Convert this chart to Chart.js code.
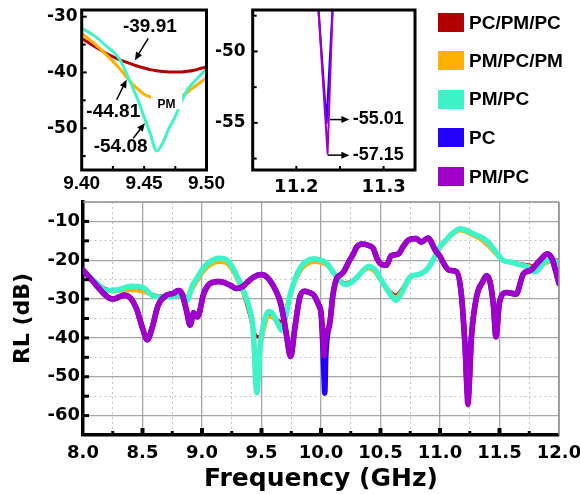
<!DOCTYPE html>
<html><head><meta charset="utf-8">
<script src="https://cdn.jsdelivr.net/npm/chart.js@4.4.0/dist/chart.umd.min.js"></script>
<style>
html,body{margin:0;padding:0;background:#fff;}
body{width:580px;height:494px;overflow:hidden;position:relative;}
canvas{position:absolute;}
#main{left:0;top:170px;}
#ins1{left:0;top:-20px;}
#ins2{left:200px;top:-20px;}
.leg{position:absolute;left:438px;height:24px;display:flex;align-items:center;font:bold 19px "Liberation Sans",Arial,sans-serif;color:#000;white-space:nowrap;}
.leg span{display:inline-block;width:26px;height:19px;margin-right:5px;}
</style></head>
<body>
<canvas id="main" width="590" height="324"></canvas>
<canvas id="ins1" width="227" height="225"></canvas>
<canvas id="ins2" width="240" height="230"></canvas>
<div id="legend"></div>
<script>
// ---------- DATA ----------
const seriesNames = ['PC/PM/PC', 'PM/PC/PM', 'PM/PC', 'PC', 'PM/PC'];

// main chart, group A (three-layer and PM/PC bilayer designs)
const freqA = [
  8.00, 8.10, 8.20, 8.30, 8.40, 8.50, 8.60, 8.70, 8.80, 8.84,
  8.87, 8.92, 8.96, 9.00, 9.05, 9.10, 9.15, 9.20, 9.25, 9.30,
  9.35, 9.40, 9.43, 9.46, 9.49, 9.52, 9.56, 9.60, 9.64, 9.67,
  9.70, 9.74, 9.78, 9.83, 9.88, 9.94, 10.00, 10.05, 10.10, 10.15,
  10.20, 10.25, 10.30, 10.35, 10.40, 10.45, 10.50, 10.55, 10.60, 10.63,
  10.66, 10.70, 10.75, 10.80, 10.85, 10.90, 10.95, 11.00, 11.05, 11.10,
  11.17, 11.22, 11.28, 11.34, 11.40, 11.46, 11.53, 11.60, 11.65, 11.70,
  11.75, 11.80, 11.85, 11.90, 11.95, 12.00];
const rlPCPMPC = [
  -22.3, -25.4, -27.5, -27.9, -27.6, -27.9, -29.0, -29.3, -28.8, -28.6,
  -29.6, -27.2, -25.2, -23.3, -21.6, -20.6, -20.3, -20.6, -22.1, -25.0,
  -28.8, -33.9, -37.7, -39.7, -39.7, -37.0, -34.0, -34.5, -35.5, -35.8,
  -33.5, -29.0, -25.5, -22.5, -21.0, -20.3, -20.5, -21.2, -23.0, -24.8,
  -25.8, -25.5, -24.3, -22.8, -22.0, -22.8, -25.0, -27.0, -28.6, -29.0,
  -28.3, -26.5, -24.3, -23.8, -23.3, -21.8, -19.5, -16.8, -15.0, -13.4,
  -12.2, -12.6, -13.5, -14.5, -16.0, -18.0, -20.0, -20.5, -20.8, -21.0,
  -21.3, -21.5, -21.0, -20.5, -20.0, -20.0];
const rlPMPCPM = [
  -22.4, -25.6, -27.7, -28.0, -27.8, -28.1, -29.2, -29.5, -29.0, -28.9,
  -29.9, -27.4, -25.4, -23.4, -21.8, -20.8, -20.5, -20.8, -22.4, -25.3,
  -29.0, -33.2, -39.2, -44.7, -42.6, -38.0, -34.6, -35.0, -36.2, -36.6,
  -34.0, -29.3, -25.8, -22.7, -21.2, -20.5, -20.7, -21.4, -23.2, -25.0,
  -26.0, -25.7, -24.5, -23.0, -22.2, -23.0, -25.2, -27.2, -28.9, -29.4,
  -28.6, -26.7, -24.5, -24.0, -23.5, -22.0, -19.7, -17.0, -15.2, -13.6,
  -12.4, -12.8, -13.7, -14.7, -16.2, -18.2, -20.2, -20.7, -21.0, -21.2,
  -21.5, -21.7, -21.2, -20.7, -20.2, -20.2];
const rlPMPCbi = [
  -22.5, -25.5, -27.8, -27.6, -26.7, -27.0, -29.3, -29.5, -29.0, -29.2,
  -30.5, -26.5, -24.5, -22.5, -20.8, -19.8, -19.5, -19.8, -21.5, -24.5,
  -28.0, -32.5, -37.8, -54.1, -41.7, -36.0, -33.2, -34.0, -36.5, -38.0,
  -35.0, -29.0, -25.0, -21.8, -20.2, -19.6, -20.0, -20.8, -23.0, -25.0,
  -26.2, -25.8, -24.5, -22.8, -21.6, -22.3, -24.8, -27.3, -29.5, -30.3,
  -29.3, -27.0, -24.3, -23.8, -23.3, -22.0, -19.5, -16.5, -14.8, -13.2,
  -11.9, -12.3, -13.2, -14.0, -15.2, -17.5, -20.0, -20.5, -21.0, -21.3,
  -22.0, -23.0, -21.5, -20.0, -20.0, -20.9];

// main chart, group B (PC and PM/PC second design)
const freqB = [
  8.00, 8.10, 8.20, 8.25, 8.30, 8.35, 8.40, 8.45, 8.50, 8.54,
  8.58, 8.63, 8.70, 8.76, 8.80, 8.83, 8.87, 8.90, 8.93, 8.96,
  8.98, 9.01, 9.05, 9.09, 9.14, 9.18, 9.24, 9.29, 9.34, 9.37,
  9.43, 9.50, 9.54, 9.57, 9.62, 9.66, 9.69, 9.71, 9.745, 9.78,
  9.82, 9.86, 9.90, 9.94, 9.98, 10.00, 10.015, 10.025, 10.032, 10.04,
  10.076, 10.10, 10.13, 10.16, 10.19, 10.24, 10.27, 10.30, 10.35, 10.40,
  10.44, 10.47, 10.50, 10.55, 10.59, 10.65, 10.69, 10.73, 10.80, 10.84,
  10.90, 10.96, 11.00, 11.04, 11.08, 11.14, 11.18, 11.21, 11.235, 11.265,
  11.31, 11.36, 11.39, 11.42, 11.45, 11.47, 11.50, 11.56, 11.64, 11.70,
  11.76, 11.84, 11.90, 11.94, 11.97, 12.00];
const rlPMPC = [
  -22.5, -26.0, -29.3, -30.0, -29.5, -29.0, -29.8, -32.5, -37.5, -40.5,
  -37.5, -31.7, -29.0, -28.5, -27.8, -28.5, -33.0, -36.7, -33.5, -34.6,
  -33.3, -29.0, -26.5, -25.7, -25.5, -25.7, -26.5, -27.3, -26.8, -26.0,
  -24.4, -23.7, -24.2, -25.2, -27.8, -31.0, -35.5, -39.3, -44.8, -37.5,
  -29.8, -28.0, -28.3, -29.0, -31.5, -33.5, -39.0, -44.5, -42.5, -40.0,
  -35.8, -29.0, -24.8, -23.8, -23.0, -20.0, -18.5, -16.6, -15.8, -16.2,
  -17.0, -19.5, -20.9, -21.3, -18.8, -18.4, -16.5, -14.9, -14.4, -15.3,
  -14.3, -17.4, -19.0, -21.3, -22.6, -23.0, -29.0, -41.8, -57.2, -39.3,
  -29.0, -25.5, -24.0, -25.5, -32.0, -39.7, -30.8, -28.3, -28.7, -23.5,
  -22.6, -20.0, -18.4, -19.5, -22.5, -26.0];
const rlPC = [
  -22.5, -26.0, -29.3, -30.0, -29.5, -29.0, -29.8, -32.5, -37.5, -40.5,
  -37.5, -31.7, -29.0, -28.5, -27.8, -28.5, -33.0, -36.7, -33.5, -34.6,
  -33.3, -29.0, -26.5, -25.7, -25.5, -25.7, -26.5, -27.3, -26.8, -26.0,
  -24.4, -23.7, -24.2, -25.2, -27.8, -31.0, -35.5, -39.3, -44.8, -37.5,
  -29.8, -28.0, -28.3, -29.0, -31.5, -33.5, -42.0, -50.0, -54.2, -45.0,
  -35.8, -29.0, -24.8, -23.8, -23.0, -20.0, -18.5, -16.6, -15.8, -16.2,
  -17.0, -19.5, -20.9, -21.3, -18.8, -18.4, -16.5, -14.9, -14.4, -15.3,
  -14.3, -17.4, -19.0, -21.3, -22.6, -23.0, -29.0, -41.8, -55.0, -39.3,
  -29.0, -25.5, -24.0, -25.5, -32.0, -39.7, -30.8, -28.3, -28.7, -23.5,
  -22.6, -20.0, -18.4, -19.5, -22.5, -26.0];

// inset 1: zoom 9.40 - 9.50 GHz
const zoomFreqA = [9.400, 9.410, 9.420, 9.430, 9.440, 9.445, 9.450, 9.455, 9.460, 9.465,
                   9.470, 9.475, 9.480, 9.485, 9.490, 9.495, 9.500];
const zoomPCPMPC = [-33.9, -35.3, -36.6, -37.7, -38.5, -38.9, -39.2, -39.5, -39.7, -39.85,
                    -39.91, -39.91, -39.9, -39.8, -39.6, -39.3, -39.0];
const zoomPMPCPM = [-33.0, -34.8, -36.9, -39.2, -41.9, -43.0, -43.9, -44.4, -44.7, -44.81,
                    -44.8, -44.6, -44.2, -43.5, -42.6, -41.8, -41.0];
const zoomPMPCbi = [-32.1, -33.4, -35.3, -37.5, -42.3, -44.9, -48.0, -51.0, -54.08, -52.6,
                    -50.0, -47.9, -45.2, -43.0, -41.7, -40.5, -39.4];

// inset 2: zoom near 11.24 GHz
const zoomFreqPC = [11.2230, 11.2346, 11.2433];
const zoomRLPC = [-45.0, -55.01, -45.0];
const zoomFreqPMPC = [11.2232, 11.2358, 11.2427];
const zoomRLPMPC = [-45.0, -57.15, -45.0];

// ---------- STYLE ----------
const colors = ['#B20000', '#FFB000', '#3EF3C8', '#2200FF', '#A100C9'];
const DV = 'DejaVu Sans', LS = 'Liberation Sans';
Chart.defaults.color = '#000';

function isMult(v, s) { const r = v / s; return Math.abs(r - Math.round(r)) < 1e-6; }
function pts(xs, ys) { return xs.map((x, i) => ({x: x, y: ys[i]})); }

const frameTicks = {
  id: 'frameTicks',
  afterDraw(chart, args, o) {
    const ctx = chart.ctx, a = chart.chartArea, xs = chart.scales.x, ys = chart.scales.y;
    ctx.save();
    ctx.lineCap = 'butt';
    if (o.box) {
      ctx.strokeStyle = o.box.color; ctx.lineWidth = o.box.width;
      if (o.box.sides) {
        ctx.beginPath();
        if (o.box.sides.includes('top')) { ctx.moveTo(a.left, a.top); ctx.lineTo(a.right, a.top); }
        if (o.box.sides.includes('right')) { ctx.moveTo(a.right, a.top); ctx.lineTo(a.right, a.bottom); }
        ctx.stroke();
      } else {
        ctx.strokeRect(a.left, a.top, a.right - a.left, a.bottom - a.top);
      }
    }
    ctx.strokeStyle = '#000';
    xs.ticks.forEach(t => {
      if (t.value <= xs.min + 1e-9 || t.value >= xs.max - 1e-9) return;
      const major = isMult(t.value, o.x.major);
      const p = xs.getPixelForValue(t.value);
      ctx.lineWidth = major ? o.x.majorWidth : o.x.minorWidth;
      ctx.beginPath(); ctx.moveTo(p, a.bottom); ctx.lineTo(p, a.bottom - (major ? o.x.majorLen : o.x.minorLen)); ctx.stroke();
    });
    ys.ticks.forEach(t => {
      if (t.value <= ys.min + 1e-9 || t.value >= ys.max - 1e-9) return;
      const major = isMult(t.value, o.y.major);
      const p = ys.getPixelForValue(t.value);
      ctx.lineWidth = major ? o.y.majorWidth : o.y.minorWidth;
      ctx.beginPath(); ctx.moveTo(a.left, p); ctx.lineTo(a.left + (major ? o.y.majorLen : o.y.minorLen), p); ctx.stroke();
    });
    ctx.restore();
  }
};

const annot = {
  id: 'annot',
  afterDatasetsDraw(chart, args, o) {
    const ctx = chart.ctx, xs = chart.scales.x, ys = chart.scales.y;
    ctx.save();
    (o.items || []).forEach(it => {
      if (it.type === 'mask') {
        const x1 = xs.getPixelForValue(it.x1), x2 = xs.getPixelForValue(it.x2);
        const y1 = ys.getPixelForValue(it.y1), y2 = ys.getPixelForValue(it.y2);
        ctx.fillStyle = '#fff';
        ctx.fillRect(Math.min(x1, x2), Math.min(y1, y2), Math.abs(x2 - x1), Math.abs(y2 - y1));
      } else if (it.type === 'arrow') {
        const x1 = xs.getPixelForValue(it.x1), x2 = xs.getPixelForValue(it.x2);
        const y1 = ys.getPixelForValue(it.y1), y2 = ys.getPixelForValue(it.y2);
        const ang = Math.atan2(y2 - y1, x2 - x1), c = Math.cos(ang), s = Math.sin(ang);
        const hl = 8, hw = 3.5;
        ctx.strokeStyle = '#000'; ctx.fillStyle = '#000'; ctx.lineWidth = 1.5;
        ctx.beginPath(); ctx.moveTo(x1, y1); ctx.lineTo(x2 - hl * 0.8 * c, y2 - hl * 0.8 * s); ctx.stroke();
        ctx.beginPath(); ctx.moveTo(x2, y2);
        ctx.lineTo(x2 - hl * c + hw * s, y2 - hl * s - hw * c);
        ctx.lineTo(x2 - hl * c - hw * s, y2 - hl * s + hw * c);
        ctx.closePath(); ctx.fill();
      } else if (it.type === 'text') {
        ctx.font = it.font; ctx.fillStyle = '#000';
        ctx.textAlign = it.align || 'center'; ctx.textBaseline = 'middle';
        ctx.fillText(it.text, xs.getPixelForValue(it.x), ys.getPixelForValue(it.y));
      }
    });
    ctx.restore();
  }
};

function lineDs(label, data, color, width, order, tension) {
  return {label: label, data: data, borderColor: color, backgroundColor: color, borderWidth: width,
          order: order, pointRadius: 0, fill: false, borderJoinStyle: 'round', borderCapStyle: 'round',
          cubicInterpolationMode: tension ? 'monotone' : 'default', tension: 0, clip: 0};
}

// ---------- MAIN CHART ----------
const mainGrid = (step) => ({
  drawTicks: false,
  color: c => (c.tick && (isMult(c.tick.value, step))) ? '#a6a6a6' : '#c4c4c4',
  lineWidth: c => (c.tick && (isMult(c.tick.value, step))) ? 1.3 : 1
});
const mainBorder = (step) => ({
  color: '#000', width: 3.5,
  dash: c => (c.tick && !isMult(c.tick.value, step)) ? [2, 3] : []
});

new Chart(document.getElementById('main'), {
  type: 'line',
  data: {datasets: [
    lineDs(seriesNames[4], pts(freqB, rlPMPC), colors[4], 5.5, 0, true),
    lineDs(seriesNames[3], pts(freqB, rlPC), colors[3], 5.5, 1, true),
    lineDs(seriesNames[2], pts(freqA, rlPMPCbi), colors[2], 5.5, 2, true),
    lineDs(seriesNames[1], pts(freqA, rlPMPCPM), colors[1], 3.5, 3, true),
    lineDs(seriesNames[0], pts(freqA, rlPCPMPC), colors[0], 3.5, 4, true)
  ]},
  plugins: [frameTicks],
  options: {
    responsive: false, animation: false, devicePixelRatio: 1,
    layout: {padding: {left: 0, top: 32, right: 31, bottom: 0}},
    plugins: {
      legend: {display: false}, tooltip: {enabled: false},
      frameTicks: {
        box: {color: '#8f8f8f', width: 1.5, sides: ['top', 'right']},
        x: {major: 0.5, majorLen: 7, minorLen: 4, majorWidth: 4, minorWidth: 3},
        y: {major: 10, majorLen: 6, minorLen: 6, majorWidth: 3, minorWidth: 3}
      }
    },
    scales: {
      x: {
        type: 'linear', min: 8, max: 12,
        afterFit: s => { s.height = 59; },
        grid: mainGrid(0.5), border: mainBorder(0.5),
        ticks: {stepSize: 0.25, autoSkip: false, maxRotation: 0, minRotation: 0, includeBounds: false, padding: 8,
                font: {family: DV, weight: 'bold', size: 18},
                callback: v => isMult(v, 0.5) ? Number(v).toFixed(1) : ''},
        title: {display: true, text: 'Frequency (GHz)', font: {family: DV, weight: 'bold', size: 25}, padding: {top: 0, bottom: 0}}
      },
      y: {
        type: 'linear', min: -65, max: -5,
        afterFit: s => { s.width = 83; },
        grid: mainGrid(10), border: mainBorder(10),
        ticks: {stepSize: 5, autoSkip: false, includeBounds: false, padding: 3,
                font: {family: DV, weight: 'bold', size: 18},
                callback: v => isMult(v, 10) ? String(v) : ''},
        title: {display: true, text: 'RL (dB)', font: {family: DV, weight: 'bold', size: 22}, padding: {top: 10, bottom: 0}}
      }
    }
  }
});

// ---------- INSET 1 ----------
const noGrid = {display: false, drawTicks: false};
const noBorder = {display: false};
new Chart(document.getElementById('ins1'), {
  type: 'line',
  data: {datasets: [
    lineDs(seriesNames[2], pts(zoomFreqA, zoomPMPCbi), colors[2], 3, 0, true),
    lineDs(seriesNames[1], pts(zoomFreqA, zoomPMPCPM), colors[1], 3, 1, true),
    lineDs(seriesNames[0], pts(zoomFreqA, zoomPCPMPC), colors[0], 3, 2, true)
  ]},
  plugins: [annot, frameTicks],
  options: {
    responsive: false, animation: false, devicePixelRatio: 1,
    layout: {padding: {left: 0, top: 30, right: 20.3, bottom: 0}},
    plugins: {
      legend: {display: false}, tooltip: {enabled: false},
      frameTicks: {
        box: {color: '#000', width: 3},
        x: {major: 0.05, majorLen: 4, minorLen: 4, majorWidth: 2, minorWidth: 2},
        y: {major: 10, majorLen: 5, minorLen: 4, majorWidth: 2, minorWidth: 2}
      },
      annot: {items: [
        {type: 'mask', x1: 9.4555, x2: 9.4805, y1: -42.4, y2: -46.6},
        {type: 'text', text: 'PM', x: 9.468, y: -45.8, font: 'bold 12px "Liberation Sans"'},
        {type: 'text', text: '-39.91', x: 9.4546, y: -31.8, font: 'bold 19px "Liberation Sans"'},
        {type: 'arrow', x1: 9.4533, y1: -33.9, x2: 9.4426, y2: -37.8},
        {type: 'text', text: '-44.81', x: 9.4253, y: -47.0, font: 'bold 19px "Liberation Sans"'},
        {type: 'arrow', x1: 9.428, y1: -44.9, x2: 9.436, y2: -41.3},
        {type: 'text', text: '-54.08', x: 9.4312, y: -53.3, font: 'bold 19px "Liberation Sans"'},
        {type: 'arrow', x1: 9.4413, y1: -51.8, x2: 9.4506, y2: -49.1}
      ]}
    },
    scales: {
      x: {
        type: 'linear', min: 9.40, max: 9.50,
        afterFit: s => { s.height = 35; },
        grid: noGrid, border: noBorder,
        ticks: {stepSize: 0.025, autoSkip: false, maxRotation: 0, minRotation: 0, includeBounds: false, padding: 2,
                font: {family: LS, weight: 'bold', size: 19},
                callback: v => isMult(v, 0.05) ? Number(v).toFixed(2) : ''}
      },
      y: {
        type: 'linear', min: -57.5, max: -28.8,
        afterFit: s => { s.width = 81.7; },
        grid: noGrid, border: noBorder,
        ticks: {stepSize: 5, autoSkip: false, includeBounds: false, padding: 4,
                font: {family: DV, weight: 'bold', size: 17},
                callback: v => isMult(v, 10) ? String(v) : ''}
      }
    }
  }
});

// ---------- INSET 2 ----------
new Chart(document.getElementById('ins2'), {
  type: 'line',
  data: {datasets: [
    lineDs(seriesNames[4], pts(zoomFreqPMPC, zoomRLPMPC), colors[4], 2, 0, false),
    lineDs(seriesNames[3], pts(zoomFreqPC, zoomRLPC), colors[3], 2.2, 1, false)
  ]},
  plugins: [annot, frameTicks],
  options: {
    responsive: false, animation: false, devicePixelRatio: 1,
    layout: {padding: {left: 0, top: 30, right: 25, bottom: 0}},
    plugins: {
      legend: {display: false}, tooltip: {enabled: false},
      frameTicks: {
        box: {color: '#000', width: 3},
        x: {major: 0.1, majorLen: 4, minorLen: 4, majorWidth: 2, minorWidth: 2},
        y: {major: 5, majorLen: 5, minorLen: 4, majorWidth: 2, minorWidth: 2}
      },
      annot: {items: [
        {type: 'arrow', x1: 11.2385, y1: -54.77, x2: 11.2608, y2: -54.77},
        {type: 'text', text: '-55.01', x: 11.2646, y: -54.72, align: 'left', font: 'bold 18px "Liberation Sans"'},
        {type: 'arrow', x1: 11.2358, y1: -57.26, x2: 11.2608, y2: -57.26},
        {type: 'text', text: '-57.15', x: 11.2646, y: -57.24, align: 'left', font: 'bold 18px "Liberation Sans"'}
      ]}
    },
    scales: {
      x: {
        type: 'linear', min: 11.15, max: 11.336,
        afterFit: s => { s.height = 40; },
        grid: noGrid, border: noBorder,
        ticks: {stepSize: 0.05, autoSkip: false, maxRotation: 0, minRotation: 0, includeBounds: false, padding: 7,
                font: {family: DV, weight: 'bold', size: 18},
                callback: v => isMult(v, 0.1) ? Number(v).toFixed(1) : ''}
      },
      y: {
        type: 'linear', min: -58.3, max: -47.1,
        afterFit: s => { s.width = 52.7; },
        grid: noGrid, border: noBorder,
        ticks: {stepSize: 2.5, autoSkip: false, includeBounds: false, padding: 7,
                font: {family: DV, weight: 'bold', size: 17},
                callback: v => isMult(v, 5) ? String(v) : ''}
      }
    }
  }
});

// ---------- LEGEND ----------
const legendCenters = [22.5, 60.8, 99.2, 137.5, 176.7];
const legendEl = document.getElementById('legend');
seriesNames.forEach((name, i) => {
  const d = document.createElement('div');
  d.className = 'leg';
  d.style.top = (legendCenters[i] - 12) + 'px';
  const sw = document.createElement('span');
  sw.style.background = colors[i];
  d.appendChild(sw);
  d.appendChild(document.createTextNode(name));
  legendEl.appendChild(d);
});
</script>
</body></html>
